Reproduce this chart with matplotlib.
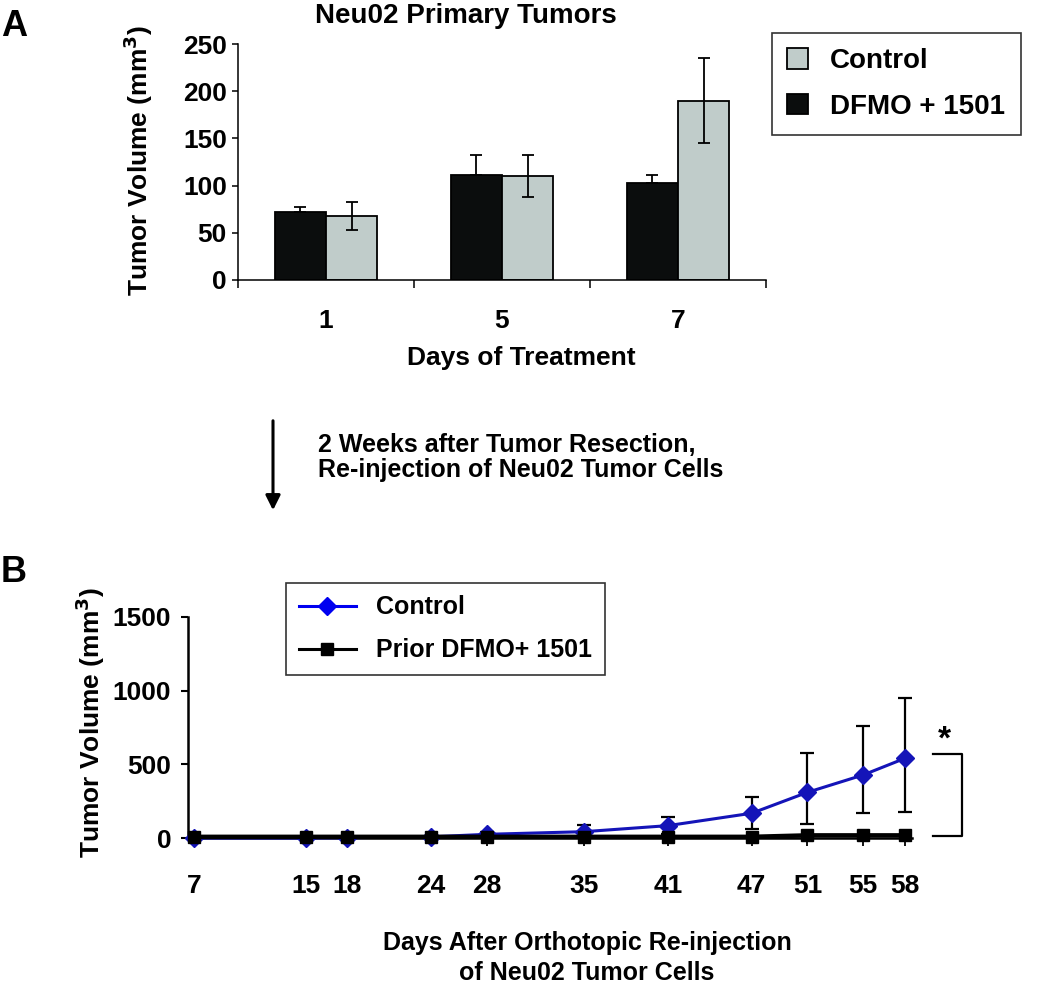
import numpy as np
import matplotlib as mpl
mpl.use('Agg')
import matplotlib.pyplot as plt
from matplotlib.lines import Line2D
from matplotlib.patches import Patch, FancyArrowPatch

plt.rcParams['font.family'] = ['Liberation Sans', 'DejaVu Sans']
plt.rcParams['font.weight'] = 'bold'
plt.rcParams['axes.labelweight'] = 'bold'

# panel A: primary tumours
days_a = ['1', '5', '7']
dfmo_a = [72, 111, 103]
dfmo_a_err = [5, 21, 8]
ctrl_a = [68, 110, 190]
ctrl_a_err = [15, 22, 45]

# panel B: after re-injection
days_b = [7, 15, 18, 24, 28, 35, 41, 47, 51, 55, 58]
ctrl_b = [0, 0, 2, 8, 25, 43, 84, 168, 310, 428, 541]
ctrl_b_err_low = [0, 0, 0, 5, 15, 45, 60, 108, 215, 256, 362]
ctrl_b_err_high = [0, 0, 0, 5, 15, 45, 60, 108, 265, 335, 407]
prior_b = [8, 8, 8, 8, 8, 8, 8, 8, 18, 18, 18]

W, H = 1050, 986
GREY = '#C0CCCA'
BLACK = '#0B0D0D'
BLUE = '#1414B8'


def fx(px):
    return px / W


def fy(py):
    return 1 - py / H


fig = plt.figure(figsize=(W / 100, H / 100), dpi=100)
fig.patch.set_facecolor('white')

# ---------------- panel A ----------------
axa = fig.add_axes([fx(238), fy(280), (766 - 238) / W, (280 - 44) / H])
x = np.arange(len(days_a))
bw = 0.29
axa.bar(x - 0.146, dfmo_a, bw, color=BLACK, edgecolor='black', linewidth=1.3,
        yerr=[[0] * len(dfmo_a), dfmo_a_err], capsize=4.5,
        error_kw={'elinewidth': 1.3, 'capthick': 1.3, 'ecolor': 'black'})
axa.bar(x + 0.146, ctrl_a, bw, color=GREY, edgecolor='black', linewidth=1.3,
        yerr=ctrl_a_err, capsize=4.5,
        error_kw={'elinewidth': 1.3, 'capthick': 1.3, 'ecolor': 'black'})
axa.set_xlim(-0.5, len(days_a) - 0.5)
axa.set_ylim(0, 250)
axa.set_yticks([0, 50, 100, 150, 200, 250])
axa.set_xticks(np.arange(len(days_a) + 1) - 0.5)
axa.set_xticklabels([])
axa.set_xticks(x, minor=True)
axa.set_xticklabels(days_a, minor=True)
axa.tick_params(axis='x', which='major', direction='out', length=6, width=1.1)
axa.tick_params(axis='x', which='minor', length=0, pad=21, labelsize=19)
axa.tick_params(axis='y', direction='out', length=4, width=1.1, pad=4, labelsize=19)
for s in ['top', 'right']:
    axa.spines[s].set_visible(False)
for s in ['left', 'bottom']:
    axa.spines[s].set_linewidth(1.1)

fig.text(fx(466), fy(16), 'Neu02 Primary Tumors', ha='center', va='center', fontsize=20)
fig.text(fx(138), fy(160), 'Tumor Volume (mm$^\\mathbf{3}$)', rotation=90,
         ha='center', va='center', fontsize=19)
fig.text(fx(521), fy(358), 'Days of Treatment', ha='center', va='center', fontsize=19)
fig.text(fx(1), fy(26), 'A', ha='left', va='center', fontsize=26)

handles_a = [Patch(facecolor=GREY, edgecolor='black', linewidth=1.3, label='Control'),
             Patch(facecolor=BLACK, edgecolor='black', linewidth=1.3, label='DFMO + 1501')]
leg = fig.legend(handles=handles_a, loc='upper left', bbox_to_anchor=(fx(772), fy(33)),
                 frameon=True, fancybox=False, fontsize=20, handlelength=0.75,
                 handleheight=0.75, handletextpad=0.8, labelspacing=0.7,
                 borderpad=0.55, borderaxespad=0)
leg.get_frame().set_edgecolor('black')
leg.get_frame().set_linewidth(1.2)

# ---------------- arrow + note ----------------
fig.add_artist(FancyArrowPatch((fx(273), fy(418)), (fx(273), fy(513)),
                               transform=fig.transFigure, arrowstyle='-|>',
                               mutation_scale=22, linewidth=2.2, color='black'))
fig.text(fx(318), fy(445), '2 Weeks after Tumor Resection,', ha='left', va='center', fontsize=18)
fig.text(fx(318), fy(470), 'Re-injection of Neu02 Tumor Cells', ha='left', va='center', fontsize=18)

# ---------------- panel B ----------------
axb = fig.add_axes([fx(188), fy(838), (912 - 188) / W, (838 - 617) / H])
axb.errorbar(days_b, ctrl_b, yerr=[ctrl_b_err_low, ctrl_b_err_high], fmt='none',
             ecolor='black', elinewidth=1.6, capsize=5, capthick=1.6, zorder=3)
axb.plot(days_b, ctrl_b, color=BLUE, linewidth=2.2, marker='D', markersize=9,
         clip_on=False, zorder=4)
axb.plot(days_b, prior_b, color='black', linewidth=3.2, marker='s', markersize=8,
         clip_on=False, zorder=5)
axb.set_xlim(6.57, 58.5)
axb.set_ylim(0, 1500)
axb.set_yticks([0, 500, 1000, 1500])
axb.set_xticks(days_b)
axb.tick_params(axis='x', direction='out', length=6, width=1.3, pad=20, labelsize=19)
axb.tick_params(axis='y', direction='out', length=5, width=1.5, pad=7, labelsize=19)
for s in ['top', 'right']:
    axb.spines[s].set_visible(False)
for s in ['left', 'bottom']:
    axb.spines[s].set_linewidth(1.8)

# significance bracket
fig.add_artist(Line2D([fx(933), fx(962), fx(962), fx(933)],
                      [fy(754), fy(754), fy(836), fy(836)],
                      transform=fig.transFigure, color='black', linewidth=1.6))
fig.text(fx(944), fy(740), '*', ha='center', va='center', fontsize=24)

fig.text(fx(90), fy(722), 'Tumor Volume (mm$^\\mathbf{3}$)', rotation=90,
         ha='center', va='center', fontsize=19)
fig.text(fx(587), fy(943), 'Days After Orthotopic Re-injection', ha='center', va='center',
         fontsize=18)
fig.text(fx(587), fy(973), 'of Neu02 Tumor Cells', ha='center', va='center', fontsize=18)
fig.text(fx(1), fy(572), 'B', ha='left', va='center', fontsize=26)

handles_b = [Line2D([], [], color='#0000F0', linewidth=2.2, marker='D', markersize=9,
                    label='Control'),
             Line2D([], [], color='black', linewidth=2.2, marker='s', markersize=8,
                    label='Prior DFMO+ 1501')]
legb = fig.legend(handles=handles_b, loc='upper left', bbox_to_anchor=(fx(286), fy(583)),
                  frameon=True, fancybox=False, fontsize=18, handlelength=2.3,
                  handletextpad=0.8, labelspacing=0.75, borderpad=0.5, borderaxespad=0)
legb.get_frame().set_edgecolor('black')
legb.get_frame().set_linewidth(1.2)

fig.savefig('out.png', dpi=100)
